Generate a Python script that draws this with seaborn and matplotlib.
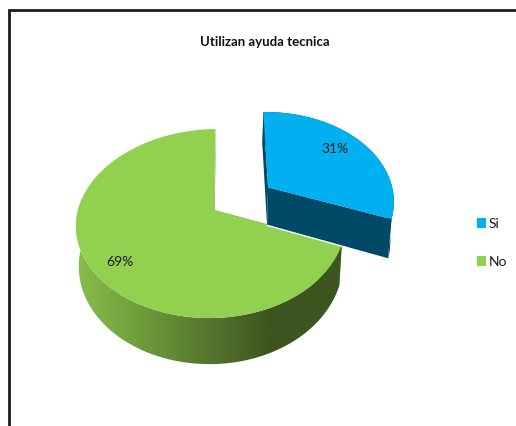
import numpy as np
import matplotlib
matplotlib.use("Agg")
import matplotlib.pyplot as plt
from matplotlib.patches import Polygon, Rectangle
import seaborn as sns

# Chart content
title = "Utilizan ayuda tecnica"
categories = ["Si", "No"]
shares = [31, 69]

sns.set_theme(style="white")
plt.rcParams["font.family"] = ["Lato", "DejaVu Sans"]

top_colors = sns.color_palette(["#00B0F0", "#92D050"])
face_colors = sns.color_palette(["#004A68", "#6F9C3C"])
wall_ramp = sns.blend_palette(["#86BC4A", "#3D5520"], as_cmap=True)

W, H = 516, 427
fig = plt.figure(figsize=(W / 100, H / 100), dpi=100, facecolor="white")
ax = fig.add_axes([0, 0, 1, 1])
ax.set_axis_off()

# Perspective projection of the pie disc onto pixel space
CX, CY, RX, RY, BOW, SKEW, PERSP, DEPTH, TAPER = 214, 211, 133.5, 92.6, 2.5, -4, 0.143, 39.5, 0.98


def project(u, v, lower=False, nudge=(0, 0)):
    s = 1 / (1 - PERSP * v)
    x = (RX * u - BOW * u * u + SKEW * v) * s
    y = CY + RY * v * s
    if lower:
        return CX + x * TAPER + nudge[0], y + DEPTH * s + nudge[1]
    return CX + x + nudge[0], y + nudge[1]


def rim(t0, t1, off, nudge, lower=False, n=160):
    t = np.radians(np.linspace(t0, t1, n))
    return project(np.sin(t) + off[0], -np.cos(t) + off[1], lower, nudge)


def path(*segments):
    return np.column_stack([np.concatenate([s[0] for s in segments]),
                            np.concatenate([s[1] for s in segments])])


def point(p):
    return np.atleast_1d(p[0]), np.atleast_1d(p[1])


start = -1.0
explode = [0.48, 0.0]
nudges = [(3, 2), (0, 0)]
label_radius = [0.76, 0.83]
label_shift = [(-5, -4), (6, 3)]

# Slices run clockwise from the top; the exploded one is painted last
angles = np.cumsum([0] + shares) * 3.6 + start
for i in [1, 0]:
    t0, t1 = angles[i], angles[i + 1]
    mid = np.radians((t0 + t1) / 2)
    off = (explode[i] * np.sin(mid), -explode[i] * np.cos(mid))
    nudge = nudges[i]
    apex_top = point(project(off[0], off[1], False, nudge))
    apex_low = point(project(off[0], off[1], True, nudge))

    # Flat faces of the cut
    for edge in (t0, t1):
        e_top = rim(edge, edge, off, nudge, n=1)
        e_low = rim(edge, edge, off, nudge, True, n=1)
        face = path(apex_top, e_top, e_low, apex_low)
        ax.add_patch(Polygon(face, closed=True, fc=face_colors[i], ec="none", zorder=2 + 2 * (1 - i)))

    # Outer wall, shaded left to right
    wall = Polygon(path(rim(t0, t1, off, nudge), rim(t1, t0, off, nudge, True)), closed=True,
                   fc="none", ec="none", zorder=2 + 2 * (1 - i))
    ax.add_patch(wall)
    if i == 1:
        ramp = np.clip((np.linspace(70, 350, 280) - 80) / 190, 0, 1)[None, :]
        im = ax.imshow(ramp, cmap=wall_ramp, vmin=0, vmax=1, aspect="auto",
                       extent=(70, 350, 400, 200), zorder=2, interpolation="bilinear")
        im.set_clip_path(wall)
    else:
        wall.set_facecolor(face_colors[i])

    # Top of the slice
    surface = path(apex_top, rim(t0, t1, off, nudge))
    ax.add_patch(Polygon(surface, closed=True, fc=top_colors[i], ec="none", zorder=3 + 2 * (1 - i)))

    if i == 0:
        # Light seam under the exploded slice
        seam = path(apex_low, rim(t1, t1, off, nudge, True, n=1))
        ax.plot(seam[:, 0], seam[:, 1], color="white", lw=1.0, zorder=6)

    r = label_radius[i]
    lx, ly = project(r * np.sin(mid) + off[0], -r * np.cos(mid) + off[1], False, nudge)
    ax.text(lx + label_shift[i][0], ly + label_shift[i][1], f"{shares[i]}%", ha="center",
            va="center", fontsize=10, color="#1a1a1a", zorder=8)

# Legend keys and names
for name, color, y in zip(categories, top_colors, [224, 262]):
    ax.add_patch(Rectangle((477, y - 5), 9, 10, fc=color, ec="none", zorder=8))
    ax.text(489, y, name, ha="left", va="center", fontsize=10, color="#1a1a1a", zorder=8)

ax.text(265, 42, title, ha="center", va="center", fontsize=9.5, fontweight="bold",
        color="#111111", zorder=8)

# Outer frame, open on the right and bottom edges of the canvas
ax.plot([8.5, 8.5, W], [H, 11, 11], color="#1c1c1c", lw=2.0, solid_joinstyle="miter", zorder=9)

ax.set_xlim(0, W)
ax.set_ylim(H, 0)
fig.savefig("out.png", dpi=100, facecolor="white")
